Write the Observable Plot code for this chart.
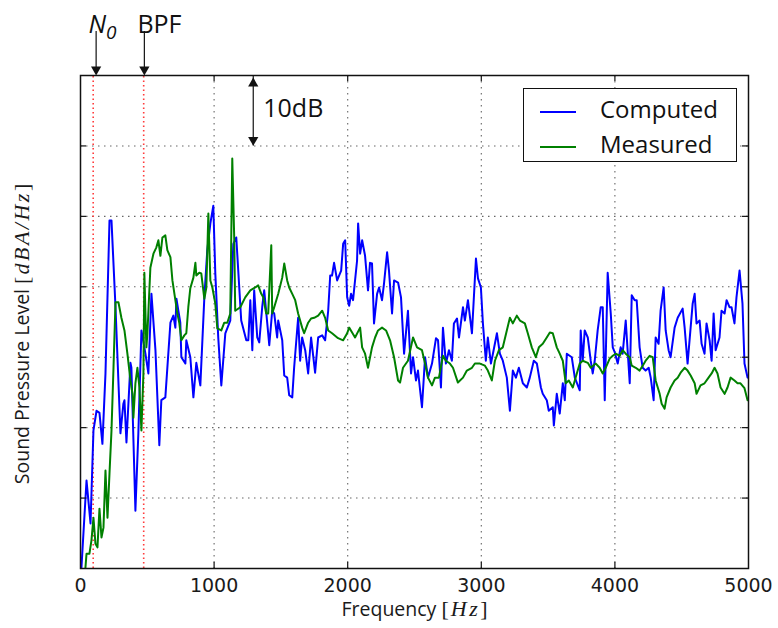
<!DOCTYPE html>
<html>
<head>
<meta charset="utf-8">
<script src="https://cdn.jsdelivr.net/npm/d3@7"></script>
<script src="https://cdn.jsdelivr.net/npm/@observablehq/plot@0.6"></script>
<style>
  body { margin: 0; background: #fff; }
  #wrap { position: relative; width: 778px; height: 628px; }
  #legend { position: absolute; left: 523px; top: 88px; width: 214px; height: 74px; box-sizing: border-box;
            border: 1.5px solid #111; background: #fff; font-family: "Open Sans", sans-serif; font-size: 24px; color: #111; }
  #legend .row { position: absolute; left: 0; height: 34px; line-height: 34px; white-space: nowrap; }
  #legend .sw { display: inline-block; width: 36px; height: 2px; vertical-align: middle; margin-left: 16px; margin-right: 24px; }
</style>
</head>
<body>
<div id="wrap"></div>
<script>
// ---------- data ----------
const seriesNames = ["Computed", "Measured"];
const seriesColors = ["#0000ff", "#008000"];

const computedHz = [
  7,45,75,97,120,142,164,187,217,232,
  262,299,321,329,344,374,381,411,433,456,
  486,508,531,561,590,605,635,673,695,710,
  718,747,755,785,792,822,845,867,897,927,
  949,972,994,1009,1031,1054,1084,1121,1144,1166,
  1203,1241,
  1256,1271,1286,1300,1323,1338,1360,1375,
  1398,1413,1435,1450,1472,1480,1510,1525,1547,1562,
  1585,1599,1629,1644,1659,1682,1704,1726,1756,1779,
  1809,1831,1854,1869,1883,1898,1921,1951,1966,1981,
  1996,2011,2025,2040,2070,2078,2093,2108,2130,2152,
  2167,2182,2197,2220,2235,2257,2272,2295,2309,2332,
  2347,2377,2399,2422,2451,2474,
  2489,2511,2526,2556,
  2579,2601,2631,2661,2676,2698,2713,2735,2758,2780,
  2795,2818,2833,2863,2877,2900,2930,2960,2975,2997,
  3012,3034,3049,3072,3087,3117,3139,3161,3191,3214,
  3236,3259,3281,3311,3341,3363,3393,3416,3446,3460,
  3490,3505,3535,3543,3565,3587,3610,3625,3640,3677,
  3700,3737,
  3744,3759,3774,3797,3819,3834,3849,3871,
  3894,3909,3924,3946,3969,3984,3999,4021,4043,4058,
  4081,4111,4126,4148,4163,4185,4208,4230,4253,4268,
  4290,4305,4327,4342,4365,4380,4402,4417,4447,4470,
  4507,4522,4544,4582,4597,4611,4634,4649,4671,4686,
  4709,4724,4739,4754,4783,4798,4821,4836,4858,4873,
  4895,4910,4933,4955,4970,4993
];
const computedDb = [
  0.1,12.5,6.4,19.6,22.4,22.1,17.7,27.7,49.4,49.4,
  37.1,19.2,23.4,23.9,17.9,29.2,28.5,8.2,19.2,33.8,
  30.5,27.7,39.0,31.0,17.5,23.9,24.3,34.9,35.9,34.2,
  38.3,34.9,30.0,29.1,32.4,30.0,24.3,29.2,26.0,38.5,
  45.2,49.0,51.5,41.9,32.8,26.0,33.4,35.2,46.1,47.0,
  35.2,32.4,
  32.4,38.1,31.0,39.5,32.8,32.1,37.1,39.5,
  34.8,31.7,36.6,36.2,32.8,35.2,32.4,27.4,27.1,24.6,
  24.3,28.5,35.6,29.5,32.8,31.0,27.7,32.8,27.8,32.8,
  33.1,32.4,36.6,41.6,41.6,43.4,40.9,42.3,46.1,46.6,
  38.5,37.3,39.0,38.1,43.7,49.0,44.7,46.6,44.4,39.5,
  43.4,43.3,34.8,39.0,39.9,38.1,40.5,44.9,42.3,36.2,
  40.9,40.6,38.5,30.5,36.6,27.7,
  30.0,26.7,28.1,22.9,
  30.0,27.1,29.1,32.7,32.4,25.7,34.2,29.1,31.0,29.5,
  34.8,35.5,32.8,37.1,35.2,38.1,33.4,44.0,41.2,39.9,
  34.8,29.5,32.8,29.1,30.5,33.4,30.5,29.5,27.1,22.4,
  28.1,27.1,28.5,26.3,25.7,27.1,29.5,29.1,25.7,24.8,
  23.9,22.4,22.9,20.3,24.8,22.0,26.3,23.9,30.5,30.0,
  27.1,25.3,
  33.8,29.5,33.8,32.8,29.5,27.7,29.5,33.8,
  37.1,37.1,23.9,42.0,36.2,31.4,30.7,29.1,31.4,30.5,
  35.2,26.3,38.8,38.1,38.1,31.4,28.5,28.1,28.5,27.1,
  23.9,32.8,31.9,36.6,39.9,33.8,31.0,30.0,34.2,35.6,
  36.9,34.2,29.1,37.6,39.0,34.8,35.2,31.9,30.5,34.8,
  32.4,29.5,36.2,31.0,32.8,36.6,36.2,38.1,37.1,37.1,
  34.8,38.5,42.3,37.6,29.1,27.1
];

const measuredHz = [
  37,45,67,82,97,112,127,142,157,172,
  187,202,217,232,247,262,284,306,329,351,
  374,389,396,411,426,441,456,471,478,493,
  501,523,546,568,583,598,613,635,650,673,
  688,710,725,740,755,777,792,807,822,845,
  860,867,889,904,927,942,957,972,987,1009,
  1024,1054,1076,1099,1121,1136,1151,1158,1196,1233,
  1271,1308,1330,1353,1368,1390,1405,1428,1435,1450,
  1480,1510,1525,1547,1562,1585,1607,1629,1659,1674,
  1704,1726,1749,1779,1809,1831,1854,1883,1928,1966,
  1996,2011,2033,2055,2093,2108,2130,2152,2182,2205,
  2227,2257,2287,2317,2347,2377,2392,2414,2451,
  2489,2519,2556,2579,2601,2631,2653,2683,2713,2735,2765,
  2788,2825,2863,2892,2930,2952,2990,3027,3049,3079,
  3102,3132,3161,3191,3214,3236,3266,3289,3326,3348,
  3378,3408,3431,3460,3490,3513,3535,3565,3587,3610,
  3632,3655,3685,3715,
  3737,3759,3797,3819,3857,3886,
  3909,3931,3961,3984,4006,4036,4058,4081,4111,4126,
  4156,4185,4208,4230,4260,4283,4305,4335,4350,4372,
  4387,4417,4447,4470,4492,4522,4544,4567,4597,4611,
  4641,4671,4701,4724,4746,4768,4791,4821,4843,4866,
  4895,4918,4940,4970,4993
];
const measuredDb = [
  0.1,2.1,2.1,4.0,7.2,3.5,3.0,8.5,4.4,5.8,
  13.9,7.2,13.5,19.6,28.5,37.8,37.8,35.6,33.8,30.5,
  26.7,24.8,21.4,26.3,28.5,25.7,19.6,27.7,42.0,31.4,
  33.4,42.7,44.7,45.6,46.6,44.4,47.0,47.3,45.2,44.2,
  40.9,38.1,36.2,34.8,32.4,33.1,33.4,37.1,39.8,41.3,
  43.4,41.6,42.0,41.9,38.3,39.9,50.4,40.9,39.9,37.6,
  34.1,33.8,34.9,34.9,36.2,58.2,46.6,36.6,37.1,38.5,
  39.5,39.9,40.2,39.0,38.5,36.2,36.2,45.9,36.2,37.1,
  39.0,41.3,43.3,40.9,39.9,39.0,38.1,36.2,34.2,33.4,
  34.9,35.5,35.6,35.9,36.6,35.6,33.8,33.4,32.7,32.4,
  33.4,34.2,33.5,32.8,34.2,31.4,30.5,28.5,31.4,32.8,
  33.8,34.2,33.8,32.4,30.0,26.7,26.4,28.5,29.5,
  32.8,31.4,31.0,29.1,27.1,26.0,27.1,27.1,30.2,29.5,29.1,
  28.5,26.4,27.1,28.1,28.5,29.1,29.1,28.8,28.1,26.7,
  29.5,31.0,31.4,33.8,35.6,34.8,35.9,35.2,34.8,33.4,
  31.4,30.0,31.4,31.9,32.8,33.5,33.4,31.4,30.5,29.5,
  26.3,26.7,25.7,27.7,
  29.1,29.5,29.2,28.5,29.1,28.5,
  27.7,28.5,29.8,30.2,30.5,30.2,31.0,30.5,30.0,28.8,
  28.5,28.1,28.8,29.5,30.2,30.0,26.7,24.8,23.4,22.7,
  24.3,25.7,26.7,27.1,27.8,28.5,28.1,27.4,26.3,24.8,
  26.0,26.3,27.1,27.7,28.5,27.7,25.7,24.8,25.7,27.1,
  26.7,26.3,26.3,25.6,23.9
];

const xTicks = [0, 1000, 2000, 3000, 4000, 5000];
const yTicks = [0, 10, 20, 30, 40, 50, 60, 70];
const xDomain = [0, 5000];
const yDomain = [0, 70];

// reference frequencies (red dotted lines) and their labels
const markerNames = ["N0", "BPF"];
const markerHz = [95, 473];
const markerArrowHz = [117, 478];
const markerLabelHz = [60, 426];
const markerLabelDb = 77.2;
const markerArrowTopDb = 75.4;

// 10 dB scale bar
const scaleBarHz = 1293;
const scaleBarDb = [60, 70];
const scaleBarLabel = "10dB";
const scaleBarLabelHz = 1368;

// ---------- build ----------
const computed = computedHz.map((hz, i) => ({hz, db: computedDb[i]}));
const measured = measuredHz.map((hz, i) => ({hz, db: measuredDb[i]}));
const markers = markerNames.map((name, i) => ({name, hz: markerHz[i], ahz: markerArrowHz[i], lhz: markerLabelHz[i]}));

const xTickLen = 45;   // inward tick length in Hz units (~6px)
const yTickLen = 0.85; // inward tick length in dB units (~6px)
const innerX = xTicks.slice(1, -1);
const innerY = yTicks.slice(1, -1);

const chart = Plot.plot({
  width: 778,
  height: 628,
  marginLeft: 80,
  marginRight: 30,
  marginTop: 75,
  marginBottom: 60,
  style: {fontFamily: "DejaVu Sans", fontSize: "19px", color: "#1a1a1a", background: "#fff", overflow: "visible"},
  x: {domain: xDomain, axis: null},
  y: {domain: yDomain, axis: null},
  marks: [
    Plot.gridX(innerX, {stroke: "#666", strokeOpacity: 1, strokeWidth: 1.1, strokeDasharray: "1.5,4.5"}),
    Plot.gridY(innerY, {stroke: "#666", strokeOpacity: 1, strokeWidth: 1.1, strokeDasharray: "1.5,4.5"}),
    Plot.ruleX(markers, {x: "hz", y1: yDomain[0], y2: yDomain[1], stroke: "#ff3b3b", strokeWidth: 1.6, strokeDasharray: "1.5,3"}),
    Plot.line(computed, {x: "hz", y: "db", stroke: seriesColors[0], strokeWidth: 2}),
    Plot.line(measured, {x: "hz", y: "db", stroke: seriesColors[1], strokeWidth: 2}),
    // inward ticks on all four sides
    Plot.ruleX(innerX, {x: d => d, y1: yDomain[0], y2: yDomain[0] + yTickLen, stroke: "#111", strokeWidth: 1.2}),
    Plot.ruleX(innerX, {x: d => d, y1: yDomain[1] - yTickLen, y2: yDomain[1], stroke: "#111", strokeWidth: 1.2}),
    Plot.ruleY(innerY, {y: d => d, x1: xDomain[0], x2: xDomain[0] + xTickLen, stroke: "#111", strokeWidth: 1.2}),
    Plot.ruleY(innerY, {y: d => d, x1: xDomain[1] - xTickLen, x2: xDomain[1], stroke: "#111", strokeWidth: 1.2}),
    Plot.frame({stroke: "#111", strokeWidth: 1.5}),
    Plot.axisX(xTicks, {tickSize: 0, tickPadding: 10, tickFormat: d => String(d), fontSize: 19, fontFamily: "DejaVu Sans", fill: "#1a1a1a"}),
    // axis titles
    Plot.text(["Frequency [Hz]"], {frameAnchor: "bottom", lineAnchor: "middle", dy: 41, fontFamily: "Open Sans", fontSize: 19.5, fill: "#1a1a1a"}),
    Plot.text(["Sound Pressure Level [dBA/Hz]"], {frameAnchor: "left", textAnchor: "middle", lineAnchor: "middle", rotate: -90, dx: -58, dy: 12, fontFamily: "Open Sans", fontSize: 19.5, fill: "#1a1a1a"}),
    // N0 / BPF arrows and labels
    Plot.ruleX(markers, {x: "ahz", y1: yDomain[1], y2: markerArrowTopDb, dy: -6, stroke: "#111", strokeWidth: 1.2, clip: false}),
    Plot.dot(markers, {x: "ahz", y: yDomain[1], dy: -6, symbol: "triangle", r: 3.8, rotate: 180, fill: "#111", stroke: "none"}),
    Plot.text(markers, {x: "lhz", y: markerLabelDb, text: "name", textAnchor: "start", fontFamily: "Open Sans", fontSize: 25, fill: "#111"}),
    // 10 dB scale bar
    Plot.ruleX([scaleBarHz], {x: d => d, y1: scaleBarDb[0], y2: scaleBarDb[1], stroke: "#111", strokeWidth: 1.2}),
    Plot.dot([scaleBarHz], {x: d => d, y: scaleBarDb[1], dy: 8, symbol: "triangle", r: 3.8, fill: "#111", stroke: "none"}),
    Plot.dot([scaleBarHz], {x: d => d, y: scaleBarDb[0], dy: -6, symbol: "triangle", r: 3.8, rotate: 180, fill: "#111", stroke: "none"}),
    Plot.text([scaleBarLabel], {x: scaleBarLabelHz, y: (scaleBarDb[0] + scaleBarDb[1]) / 2 + 0.2, textAnchor: "start", fontFamily: "Open Sans", fontSize: 25, fill: "#111"})
  ]
});

// mixed-font titles (italic math parts, spaced like mathtext)
const serif = "Liberation Serif, DejaVu Serif, serif";
function mathPart(sel, txt) {
  sel.append("tspan").attr("font-family", serif).attr("font-size", 22).attr("letter-spacing", 2).text("[");
  sel.append("tspan").attr("font-family", serif).attr("font-size", 22).attr("font-style", "italic").attr("letter-spacing", 2.5).text(txt);
  sel.append("tspan").attr("font-family", serif).attr("font-size", 22).text("]");
}
d3.select(chart).selectAll("text").each(function () {
  const t = this.textContent;
  const sel = d3.select(this);
  if (t === "Frequency [Hz]") {
    sel.text(null);
    sel.append("tspan").text("Frequency ");
    mathPart(sel, "Hz");
  } else if (t === "Sound Pressure Level [dBA/Hz]") {
    sel.text(null);
    sel.append("tspan").text("Sound Pressure Level ");
    mathPart(sel, "dBA/Hz");
  } else if (t === "N0") {
    sel.text(null);
    sel.append("tspan").attr("font-style", "italic").text("N");
    sel.append("tspan").attr("font-style", "italic").attr("font-size", 19).attr("dy", 6).text("0");
  }
});

const wrap = document.getElementById("wrap");
wrap.appendChild(chart);

// legend inside the axes (upper right)
const legend = document.createElement("div");
legend.id = "legend";
seriesNames.forEach((name, i) => {
  const row = document.createElement("div");
  row.className = "row";
  row.style.top = (3 + i * 35) + "px";
  const sw = document.createElement("span");
  sw.className = "sw";
  sw.style.background = seriesColors[i];
  const label = document.createElement("span");
  label.textContent = name;
  row.appendChild(sw);
  row.appendChild(label);
  legend.appendChild(row);
});
wrap.appendChild(legend);
</script>
</body>
</html>
